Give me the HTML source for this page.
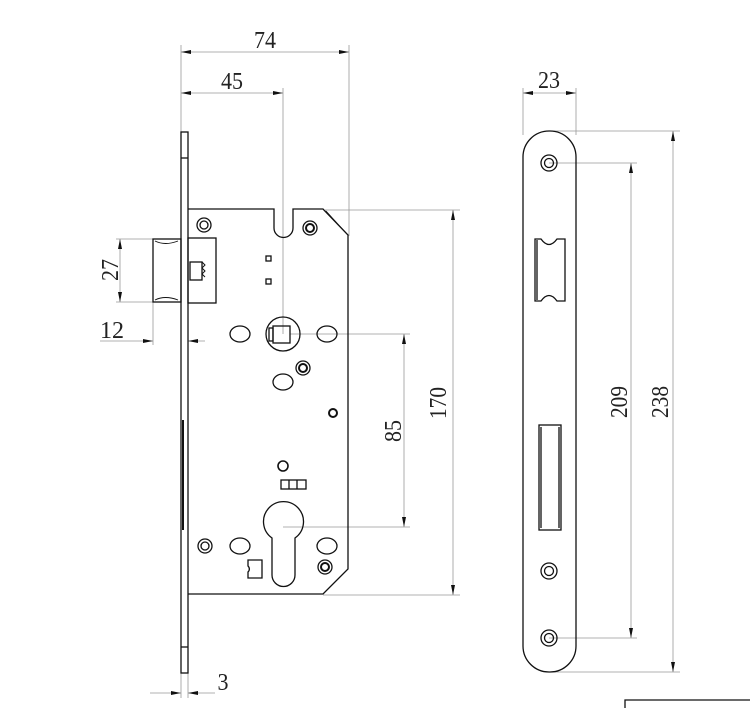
<!DOCTYPE html>
<html><head><meta charset="utf-8"><style>
html,body{margin:0;padding:0;background:#fff;}
svg{display:block}
text{font-family:"Liberation Serif",serif;font-size:24px;fill:#222;}
</style></head><body>
<svg width="750" height="708" viewBox="0 0 750 708" xmlns="http://www.w3.org/2000/svg">
<defs>
<marker id="a" viewBox="0 0 10 4" refX="10" refY="2" markerWidth="10" markerHeight="4" orient="auto-start-reverse" markerUnits="userSpaceOnUse"><path d="M0,0 L10,2 L0,4 Z" fill="#111"/></marker>
</defs>
<g stroke="#999" stroke-width="0.8" fill="none">
<line x1="181" y1="45" x2="181" y2="132"/>
<line x1="283" y1="88" x2="283" y2="334"/>
<line x1="349" y1="45" x2="349" y2="236"/>
<line x1="325" y1="210" x2="460" y2="210"/>
<line x1="323" y1="595" x2="460" y2="595"/>
<line x1="290" y1="334" x2="410" y2="334"/>
<line x1="283" y1="527" x2="410" y2="527"/>
<line x1="116" y1="239" x2="155" y2="239"/>
<line x1="116" y1="302" x2="155" y2="302"/>
<line x1="153" y1="302" x2="153" y2="345"/>
<line x1="181" y1="673" x2="181" y2="698"/>
<line x1="188" y1="673" x2="188" y2="698"/>
<line x1="523" y1="88" x2="523" y2="135"/>
<line x1="576" y1="88" x2="576" y2="135"/>
<line x1="549" y1="131" x2="680" y2="131"/>
<line x1="549" y1="672" x2="680" y2="672"/>
<line x1="549" y1="163" x2="637" y2="163"/>
<line x1="549" y1="638" x2="637" y2="638"/>
</g>
<g stroke="#999" stroke-width="0.8" fill="none">
<line x1="181" y1="52" x2="349" y2="52" marker-start="url(#a)" marker-end="url(#a)"/>
<line x1="181" y1="93" x2="283" y2="93" marker-start="url(#a)" marker-end="url(#a)"/>
<line x1="453" y1="210" x2="453" y2="595" marker-start="url(#a)" marker-end="url(#a)"/>
<line x1="404" y1="334" x2="404" y2="527" marker-start="url(#a)" marker-end="url(#a)"/>
<line x1="120" y1="239" x2="120" y2="302" marker-start="url(#a)" marker-end="url(#a)"/>
<line x1="100" y1="341" x2="153" y2="341" marker-end="url(#a)"/>
<line x1="188" y1="341" x2="205" y2="341" marker-start="url(#a)"/>
<line x1="150" y1="693" x2="181" y2="693" marker-end="url(#a)"/>
<line x1="188" y1="693" x2="215" y2="693" marker-start="url(#a)"/>
<line x1="523" y1="93" x2="576" y2="93" marker-start="url(#a)" marker-end="url(#a)"/>
<line x1="673" y1="131" x2="673" y2="672" marker-start="url(#a)" marker-end="url(#a)"/>
<line x1="631" y1="163" x2="631" y2="638" marker-start="url(#a)" marker-end="url(#a)"/>
</g>
<g text-anchor="middle">
<text x="265" y="48" textLength="22" lengthAdjust="spacingAndGlyphs">74</text>
<text x="232" y="89" textLength="22" lengthAdjust="spacingAndGlyphs">45</text>
<text x="549" y="88" textLength="22" lengthAdjust="spacingAndGlyphs">23</text>
<text x="112" y="338" textLength="24" lengthAdjust="spacingAndGlyphs">12</text>
<text x="223" y="690" textLength="11" lengthAdjust="spacingAndGlyphs">3</text>
<text transform="translate(118,270) rotate(-90)" textLength="22" lengthAdjust="spacingAndGlyphs">27</text>
<text transform="translate(446,403) rotate(-90)" textLength="32" lengthAdjust="spacingAndGlyphs">170</text>
<text transform="translate(401,431) rotate(-90)" textLength="22" lengthAdjust="spacingAndGlyphs">85</text>
<text transform="translate(627,402) rotate(-90)" textLength="32" lengthAdjust="spacingAndGlyphs">209</text>
<text transform="translate(668,402) rotate(-90)" textLength="32" lengthAdjust="spacingAndGlyphs">238</text>
</g>
<g stroke="#111" stroke-width="1.3" fill="none">
<rect x="181" y="132" width="7" height="541"/>
<line x1="181" y1="158" x2="188" y2="158"/>
<line x1="181" y1="647" x2="188" y2="647"/>
<line x1="183" y1="420" x2="183" y2="530" stroke-width="2"/>
<path d="M188,209 L274,209 L274,228 A9.5,9.5 0 0 0 293,228 L293,209 L323,209 L348,235 L348,569 L323,594 L188,594"/>
<path d="M326,211 L346,233 M346,571 L325,592" stroke-width="0.8"/>
<rect x="153" y="239" width="28" height="63"/>
<path d="M155,241 Q165,246 178,241 M155,300 Q165,295 178,300" stroke-width="0.9"/>
<rect x="188" y="238" width="28" height="65"/>
<rect x="190" y="262" width="12" height="18"/>
<path d="M202,262 l3,3 l-3,3 l3,3 l-3,3 l3,3" stroke-width="1"/>
<rect x="266" y="256" width="5" height="5"/>
<rect x="266" y="279" width="5" height="5"/>
<circle cx="283" cy="334" r="17"/>
<rect x="273" y="326" width="17" height="17"/>
<rect x="269" y="328" width="4" height="13"/>
<ellipse cx="240" cy="334" rx="10" ry="8"/>
<ellipse cx="327" cy="334" rx="10" ry="8"/>
<ellipse cx="283" cy="382" rx="10" ry="8"/>
<circle cx="204" cy="225" r="7"/><circle cx="204" cy="225" r="4"/>
<circle cx="310" cy="228" r="7"/><circle cx="310" cy="228" r="4" stroke-width="2"/>
<circle cx="303" cy="368" r="7"/><circle cx="303" cy="368" r="4" stroke-width="2"/>
<circle cx="205" cy="546" r="7"/><circle cx="205" cy="546" r="4"/>
<circle cx="325" cy="567" r="7"/><circle cx="325" cy="567" r="4" stroke-width="2"/>
<circle cx="333" cy="413" r="4" stroke-width="2"/>
<circle cx="283" cy="466" r="5" stroke-width="1.6"/>
<rect x="281" y="480" width="25" height="9"/>
<line x1="289" y1="480" x2="289" y2="489"/><line x1="297" y1="480" x2="297" y2="489"/>
<path d="M272,538 A20,20 0 1 1 295,538 L295,575 A11.5,11.5 0 0 1 272,575 Z"/>
<ellipse cx="240" cy="546" rx="10" ry="8"/>
<ellipse cx="327" cy="546" rx="10" ry="8"/>
<path d="M248,560 L262,560 L262,578 L248,578 L248,572 A4,4 0 0 0 248,566 Z"/>
<rect x="523" y="131" width="53" height="541" rx="26" ry="26"/>
<circle cx="549" cy="163" r="8"/><circle cx="549" cy="163" r="4.5"/>
<circle cx="549" cy="571" r="8"/><circle cx="549" cy="571" r="4.5"/>
<circle cx="549" cy="638" r="8"/><circle cx="549" cy="638" r="4.5"/>
<path d="M535,239 L541,239 Q549,250 557,239 L565,239 L565,301 L557,301 Q549,290 541,301 L535,301 Z"/>
<line x1="537" y1="240" x2="537" y2="300"/>
<rect x="539" y="425" width="22" height="105"/>
<line x1="541" y1="427" x2="541" y2="528"/><line x1="559" y1="427" x2="559" y2="528"/>
<path d="M625,708 L625,700 L750,700"/>
</g>
</svg>
</body></html>
